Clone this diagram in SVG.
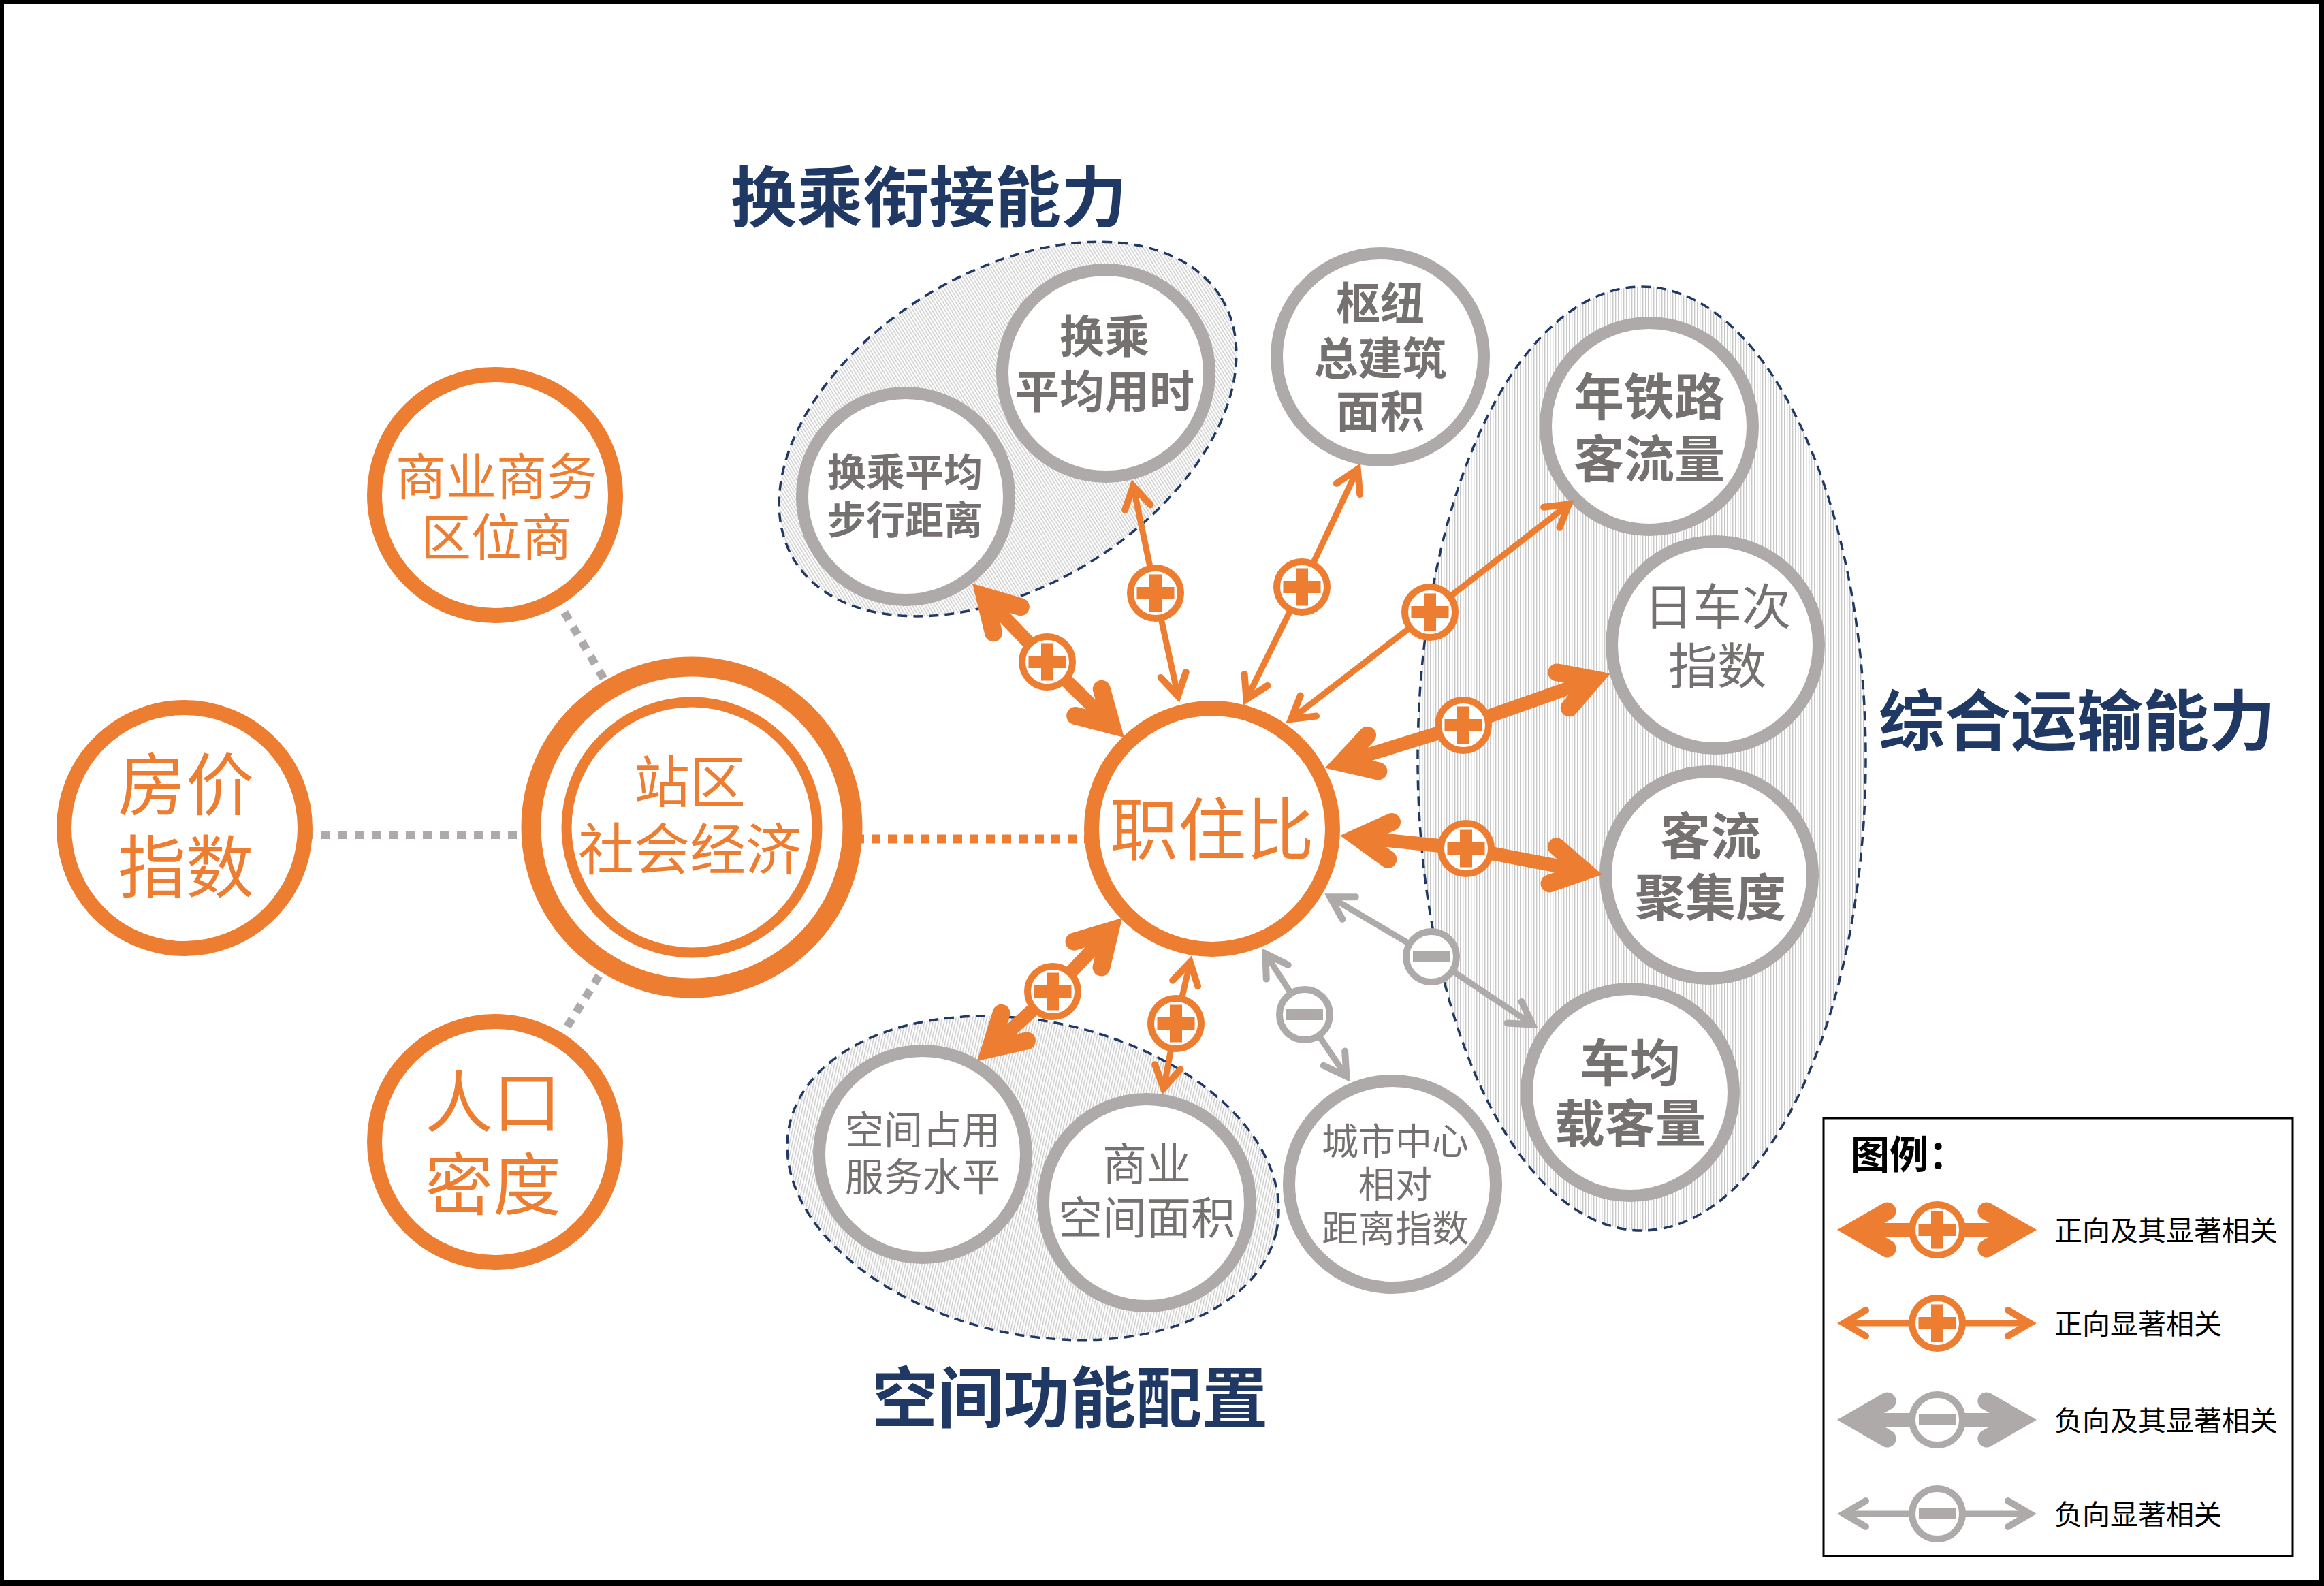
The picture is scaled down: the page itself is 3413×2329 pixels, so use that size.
<svg xmlns="http://www.w3.org/2000/svg" xmlns:xlink="http://www.w3.org/1999/xlink" width="3413" height="2329" viewBox="0 0 3413 2329">
<style>
text{font-family:"Noto Sans CJK SC","Noto Sans",sans-serif;}
.o-ring{fill:#fff;stroke:#ED7D31;stroke-width:22}
.g-ring{fill:#fff;stroke:#AEAAAA;stroke-width:18}
.t-o{fill:#ED7D31;text-anchor:middle}
.t-g{fill:#767171;text-anchor:middle}
.b{font-weight:bold}
.title{fill:#203864;font-weight:bold;font-size:97px;text-anchor:middle}
.grp{fill:url(#hatch);stroke:#203864;stroke-width:3.5;stroke-dasharray:14 9}
.sT{stroke:#ED7D31;stroke-width:20}
.sO{stroke:#ED7D31;stroke-width:9}
.sG{stroke:#AEAAAA;stroke-width:9}
.sTG{stroke:#AEAAAA;stroke-width:20}
.dotG{stroke:#AEAAAA;stroke-width:12;stroke-dasharray:13 12;fill:none}
.dotO{stroke:#ED7D31;stroke-width:13;stroke-dasharray:13 11;fill:none}
.leg{font-size:41px;fill:#000}
</style>
<defs>
<pattern id="hatch" width="4" height="4" patternUnits="userSpaceOnUse"><rect width="1.4" height="4" fill="#c8c8c8"/></pattern>
<path id="hT" d="M0,0 L-67.5,-39 A13,13 0 0 0 -80.5,-16.5 L-52,0 L-80.5,16.5 A13,13 0 0 0 -67.5,39 Z"/>
<path id="hN" d="M-42,-19 L-10,0 L-42,19" fill="none" stroke-width="10" stroke-linecap="round" stroke-linejoin="miter"/>
<g id="bP"><circle r="37" fill="#fff" stroke="#ED7D31" stroke-width="10"/><rect x="-27.5" y="-9" width="55" height="18" fill="#ED7D31"/><rect x="-9" y="-27.5" width="18" height="55" fill="#ED7D31"/></g>
<g id="bM"><circle r="37" fill="#fff" stroke="#AEAAAA" stroke-width="10"/><rect x="-27" y="-8" width="54" height="16" fill="#AEAAAA"/></g>
</defs>
<rect width="3413" height="2329" fill="#fff"/>
<path d="M0,0 H3413 V2329 H0 Z M6,6 V2320 H3405 V6 Z" fill="#000" fill-rule="evenodd"/>

<g id="groups">
<ellipse class="grp" cx="1480" cy="630" rx="368" ry="230" transform="rotate(-31.6 1480 630)"/>
<ellipse class="grp" cx="2411" cy="1114" rx="329" ry="693"/>
<ellipse class="grp" cx="1517" cy="1730" rx="366" ry="230" transform="rotate(12.3 1517 1730)"/>
</g>

<g id="titles">
<text class="title" x="1364" y="325">换乘衔接能力</text>
<text class="title" x="3050" y="1094">综合运输能力</text>
<text class="title" x="1571" y="2088">空间功能配置</text>
</g>

<g id="dotted-links">
<line class="dotG" x1="271" y1="1226" x2="1016" y2="1226"/>
<line class="dotG" x1="727" y1="727" x2="1016" y2="1215"/>
<line class="dotG" x1="727" y1="1677" x2="1016" y2="1215"/>
<line class="dotO" x1="1016" y1="1232" x2="1780" y2="1232"/>
</g>

<g id="node-fangjia"><circle class="o-ring" cx="271" cy="1216" r="177"/><text class="t-o" font-size="100"><tspan x="273" y="1189">房价</tspan><tspan x="273" y="1310">指数</tspan></text></g>
<g id="node-shangye-quweishang"><circle class="o-ring" cx="727" cy="727" r="177"/><text class="t-o" font-size="74"><tspan x="729" y="727">商业商务</tspan><tspan x="729" y="816">区位商</tspan></text></g>
<g id="node-renkou"><circle class="o-ring" cx="727" cy="1677" r="177"/><text class="t-o" font-size="100"><tspan x="724" y="1655">人口</tspan><tspan x="724" y="1776">密度</tspan></text></g>
<g id="node-zhanqu"><circle cx="1016" cy="1215" r="236" fill="#fff" stroke="#ED7D31" stroke-width="29"/><circle cx="1016" cy="1215" r="184" fill="none" stroke="#ED7D31" stroke-width="15"/><text class="t-o" font-size="82"><tspan x="1013" y="1178">站区</tspan><tspan x="1013" y="1277">社会经济</tspan></text></g>
<g id="node-zhizhubi"><circle class="o-ring" cx="1780" cy="1217" r="177"/><text class="t-o" font-size="100"><tspan x="1780" y="1255">职住比</tspan></text></g>

<g id="node-huancheng-yongshi"><circle class="g-ring" cx="1624" cy="548" r="152"/><text class="t-g b" font-size="66"><tspan x="1622" y="518">换乘</tspan><tspan x="1622" y="599">平均用时</tspan></text></g>
<g id="node-huancheng-buxing"><circle class="g-ring" cx="1330" cy="729" r="152"/><text class="t-g b" font-size="57"><tspan x="1329" y="714">换乘平均</tspan><tspan x="1329" y="784">步行距离</tspan></text></g>
<g id="node-shuniu"><circle class="g-ring" cx="2027" cy="524" r="152"/><text class="t-g b" font-size="65"><tspan x="2027" y="469">枢纽</tspan><tspan x="2027" y="550">总建筑</tspan><tspan x="2027" y="628">面积</tspan></text></g>
<g id="node-tielu"><circle class="g-ring" cx="2422" cy="626" r="152"/><text class="t-g b" font-size="74"><tspan x="2422" y="610">年铁路</tspan><tspan x="2422" y="701">客流量</tspan></text></g>
<g id="node-checi"><circle class="g-ring" cx="2519" cy="947" r="152"/><text class="t-g" font-size="72"><tspan x="2522" y="917">日车次</tspan><tspan x="2522" y="1004">指数</tspan></text></g>
<g id="node-juji"><circle class="g-ring" cx="2510" cy="1285" r="152"/><text class="t-g b" font-size="74"><tspan x="2512" y="1255">客流</tspan><tspan x="2512" y="1345">聚集度</tspan></text></g>
<g id="node-zaike"><circle class="g-ring" cx="2394" cy="1604" r="152"/><text class="t-g b" font-size="74"><tspan x="2394" y="1588">车均</tspan><tspan x="2394" y="1677">载客量</tspan></text></g>
<g id="node-chengshi"><circle class="g-ring" cx="2045" cy="1739" r="152"/><text class="t-g" font-size="54"><tspan x="2049" y="1696">城市中心</tspan><tspan x="2049" y="1759">相对</tspan><tspan x="2049" y="1824">距离指数</tspan></text></g>
<g id="node-shangye-kongjian"><circle class="g-ring" cx="1684" cy="1766" r="152"/><text class="t-g" font-size="65"><tspan x="1684" y="1733">商业</tspan><tspan x="1684" y="1812">空间面积</tspan></text></g>
<g id="node-kongjian-zhanyong"><circle class="g-ring" cx="1355" cy="1695" r="152"/><text class="t-g" font-size="57"><tspan x="1355" y="1680">空间占用</tspan><tspan x="1355" y="1749">服务水平</tspan></text></g>

<g id="connectors">
<g transform="translate(1538 972) rotate(-133.7)"><line x2="114" class="sT"/><use href="#hT" x="159.1" fill="#ED7D31"/></g>
<g transform="translate(1538 972) rotate(44.5)"><line x2="113" class="sT"/><use href="#hT" x="158.4" fill="#ED7D31"/></g>
<use href="#bP" x="1538" y="972"/>

<g transform="translate(1697 871) rotate(-101.8)"><line x2="162" class="sO"/><use href="#hN" x="170.6" stroke="#ED7D31"/></g>
<g transform="translate(1697 871) rotate(77.7)"><line x2="157" class="sO"/><use href="#hN" x="164.8" stroke="#ED7D31"/></g>
<use href="#bP" x="1697" y="871"/>

<g transform="translate(1912 862) rotate(-64.7)"><line x2="193" class="sO"/><use href="#hN" x="201.3" stroke="#ED7D31"/></g>
<g transform="translate(1912 862) rotate(116.3)"><line x2="186" class="sO"/><use href="#hN" x="194.1" stroke="#ED7D31"/></g>
<use href="#bP" x="1912" y="862"/>

<g transform="translate(2100 899) rotate(-37.9)"><line x2="260" class="sO"/><use href="#hN" x="268.6" stroke="#ED7D31"/></g>
<g transform="translate(2100 899) rotate(142.4)"><line x2="259" class="sO"/><use href="#hN" x="267.4" stroke="#ED7D31"/></g>
<use href="#bP" x="2100" y="899"/>

<g transform="translate(2149 1065) rotate(-19.4)"><line x2="184" class="sT"/><use href="#hT" x="229" fill="#ED7D31"/></g>
<g transform="translate(2149 1065) rotate(162.8)"><line x2="167" class="sT"/><use href="#hT" x="212.6" fill="#ED7D31"/></g>
<use href="#bP" x="2149" y="1065"/>

<g transform="translate(2153 1246) rotate(10.8)"><line x2="158" class="sT"/><use href="#hT" x="203.6" fill="#ED7D31"/></g>
<g transform="translate(2153 1246) rotate(-174.1)"><line x2="141" class="sT"/><use href="#hT" x="186" fill="#ED7D31"/></g>
<use href="#bP" x="2153" y="1246"/>

<g transform="translate(2102 1405) rotate(33.8)"><line x2="181" class="sG"/><use href="#hN" x="188.9" stroke="#AEAAAA"/></g>
<g transform="translate(2102 1405) rotate(-149.4)"><line x2="174" class="sG"/><use href="#hN" x="182.5" stroke="#AEAAAA"/></g>
<use href="#bM" x="2102" y="1405"/>

<g transform="translate(1916 1490) rotate(55.9)"><line x2="111" class="sG"/><use href="#hN" x="119.5" stroke="#AEAAAA"/></g>
<g transform="translate(1916 1490) rotate(-122.7)"><line x2="108" class="sG"/><use href="#hN" x="116.5" stroke="#AEAAAA"/></g>
<use href="#bM" x="1916" y="1490"/>

<g transform="translate(1727 1503) rotate(100.8)"><line x2="99" class="sO"/><use href="#hN" x="106.9" stroke="#ED7D31"/></g>
<g transform="translate(1727 1503) rotate(-77)"><line x2="94" class="sO"/><use href="#hN" x="102.6" stroke="#ED7D31"/></g>
<use href="#bP" x="1727" y="1503"/>

<g transform="translate(1546 1456) rotate(137.4)"><line x2="106" class="sT"/><use href="#hT" x="150.7" fill="#ED7D31"/></g>
<g transform="translate(1546 1456) rotate(-46.6)"><line x2="104" class="sT"/><use href="#hT" x="148.6" fill="#ED7D31"/></g>
<use href="#bP" x="1546" y="1456"/>
</g>

<g id="legend">
<rect x="2678" y="1642" width="689" height="643" fill="#fff" stroke="#000" stroke-width="3"/>
<text x="2718" y="1716" font-size="57" font-weight="bold" fill="#000">图例：</text>
<g transform="translate(2845 1806) rotate(180)"><line x2="102" class="sT"/><use href="#hT" x="147" fill="#ED7D31"/></g>
<g transform="translate(2845 1806)"><line x2="101" class="sT"/><use href="#hT" x="146" fill="#ED7D31"/></g>
<use href="#bP" x="2845" y="1806"/>
<text class="leg" x="3017" y="1822">正向及其显著相关</text>
<g transform="translate(2845 1943) rotate(180)"><line x2="139" class="sO"/><use href="#hN" x="147" stroke="#ED7D31"/></g>
<g transform="translate(2845 1943)"><line x2="138" class="sO"/><use href="#hN" x="146" stroke="#ED7D31"/></g>
<use href="#bP" x="2845" y="1943"/>
<text class="leg" x="3017" y="1959">正向显著相关</text>
<g transform="translate(2845 2085) rotate(180)"><line x2="102" class="sTG"/><use href="#hT" x="147" fill="#AEAAAA"/></g>
<g transform="translate(2845 2085)"><line x2="101" class="sTG"/><use href="#hT" x="146" fill="#AEAAAA"/></g>
<use href="#bM" x="2845" y="2085"/>
<text class="leg" x="3017" y="2101">负向及其显著相关</text>
<g transform="translate(2845 2223) rotate(180)"><line x2="139" class="sG"/><use href="#hN" x="147" stroke="#AEAAAA"/></g>
<g transform="translate(2845 2223)"><line x2="138" class="sG"/><use href="#hN" x="146" stroke="#AEAAAA"/></g>
<use href="#bM" x="2845" y="2223"/>
<text class="leg" x="3017" y="2239">负向显著相关</text>
</g>
</svg>
